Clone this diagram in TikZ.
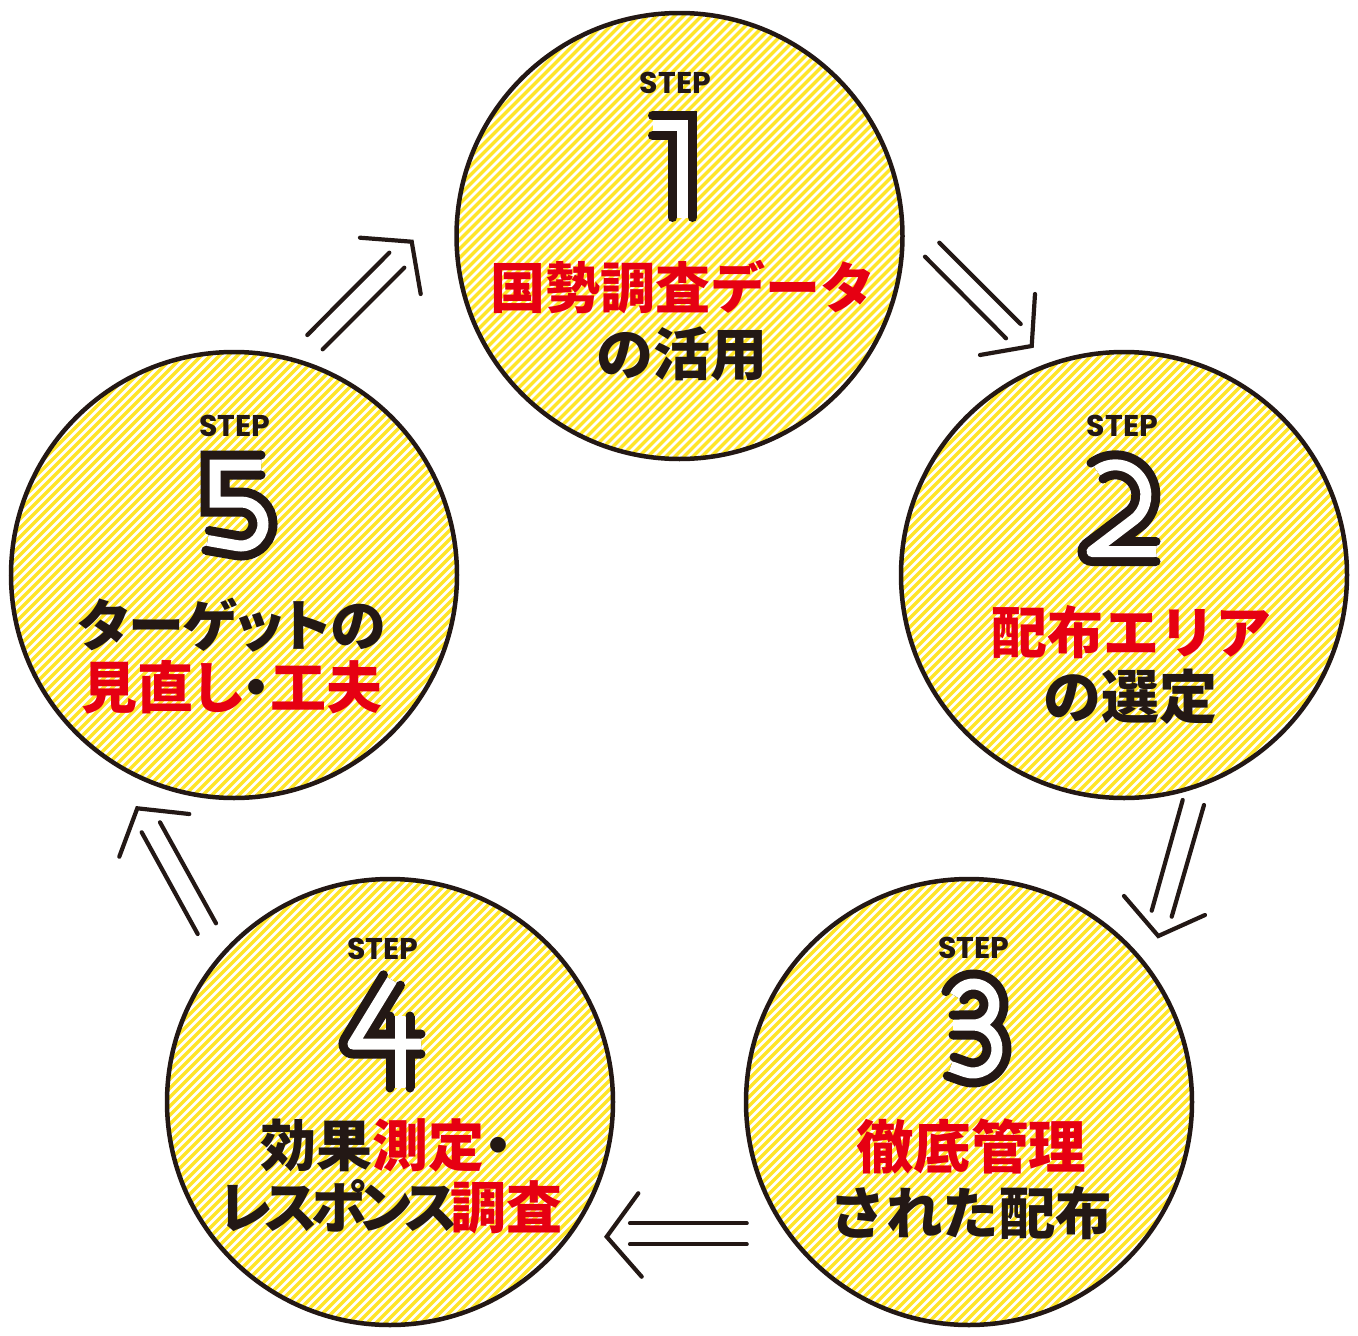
\documentclass[tikz,border=0pt]{standalone}
\usepackage{fontspec}
\newfontfamily\jp{Noto Sans CJK JP}
\newfontfamily\jpp{Noto Sans CJK JP}[RawFeature=+palt]
\newfontfamily\stepfont{Poppins}
\newcommand\tightk{\kern-6.3pt}
\definecolor{ink}{HTML}{231815}
\definecolor{jred}{HTML}{E60012}
\definecolor{stripeyellow}{RGB}{255,229,40}
\begin{document}
\begin{tikzpicture}[x=1pt,y=-1pt,
  stepcircle/.style={circle, minimum size=446pt, inner sep=0pt, draw=ink, line width=4.5pt, fill=white,
    path picture={\foreach \k in {-38,...,38}{\draw[stripeyellow,line width=3.4pt] ([shift={(\k*9-340,340)}]path picture bounding box.center) -- ++(680,-680);}}},
  steplabel/.style={font=\stepfont\bfseries\fontsize{30}{30}\selectfont, text=ink, inner sep=0pt},
  jtext/.style={font=\jp\bfseries\fontsize{#1}{#1}\selectfont, text=ink, inner sep=0pt},
  jtext/.default=56,
  jptext/.style={font=\jpp\bfseries\fontsize{#1}{#1}\selectfont, text=ink, inner sep=0pt},
  jptext/.default=56,
  numblack/.style={draw=ink, line width=29pt, line cap=butt},
  numwhite/.style={draw=white, line width=11pt, line cap=butt},
  flowline/.style={draw=ink, line width=4.2pt, line cap=round, line join=miter},
]
\useasboundingbox (0,0) rectangle (1358,1336);

% circles
\node[stepcircle] (c1) at (679.5,236) {};
\node[stepcircle] (c2) at (1124,575) {};
\node[stepcircle] (c3) at (969,1102) {};
\node[stepcircle] (c4) at (390,1102) {};
\node[stepcircle] (c5) at (234,575) {};

% numeral 1
\draw[numblack] (652.5,125.5) -- (682.5,125.5) -- (682.5,217.5);
\draw[numwhite] (652.5,125.5) -- (682.5,125.5) -- (682.5,217.5);
\foreach \p in {(652.5,115.5),(652.5,135.5),(672.5,217.5),(692.5,217.5)} \fill[ink] \p circle[radius=4.5];

% numeral 2
\draw[numblack, line join=round] (1097,471) arc[start angle=-127, end angle=52.3, radius=30.5] -- (1092,551.5) -- (1156,551.5);
\draw[numwhite, line join=round] (1097,471) arc[start angle=-127, end angle=52.3, radius=30.5] -- (1092,551.5) -- (1156,551.5);
\foreach \p in {(1091,463),(1103,479),(1156,541.5),(1156,561.5)} \fill[ink] \p circle[radius=4.5];

% numeral 3
\draw[numblack, line join=round] (954.9,995.8) arc[start angle=-155, end angle=90, radius=20.5] -- (953,1025)
   (953,1025) -- (973,1025) arc[start angle=-90, end angle=110, radius=24] -- (950.7,1066.5);
\draw[numwhite, line join=round] (954.9,995.8) arc[start angle=-155, end angle=90, radius=20.5] -- (953,1025)
   (953,1025) -- (973,1025) arc[start angle=-90, end angle=110, radius=24] -- (950.7,1066.5);
\foreach \p in {(945.9,991.6),(963.9,1000.0),(953,1015),(953,1035),(947.3,1075.9),(954.1,1057.1)} \fill[ink] \p circle[radius=4.5];

% numeral 4
\draw[numblack, line join=round] (392,980) -- (353,1044) -- (421,1044);
\draw[numblack] (400,1016) -- (400,1088);
\draw[numwhite, line join=round] (392,980) -- (353,1044) -- (421,1044);
\draw[numwhite] (400,1016) -- (400,1088);
\foreach \p in {(400.5,985.2),(383.5,974.8),(421,1034),(421,1054),(390,1016),(410,1016),(390,1088),(410,1088)} \fill[ink] \p circle[radius=4.5];

% numeral 5
\draw[numblack] (261,465) -- (215,465) -- (215,502) -- (241,502) arc[start angle=-90, end angle=100, radius=22] -- (207.6,540.5);
\draw[numwhite] (261,465) -- (215,465) -- (215,502) -- (241,502) arc[start angle=-90, end angle=100, radius=22] -- (207.6,540.5);
\foreach \p in {(261,455),(261,475),(205.9,550.3),(209.3,530.6)} \fill[ink] \p circle[radius=4.5];

% STEP labels
\node[steplabel] (s1) at (675.5,82.5) {STEP};
\node[steplabel] (s2) at (1122.5,426) {STEP};
\node[steplabel] (s3) at (974,947.5) {STEP};
\node[steplabel] (s4) at (383,949) {STEP};
\node[steplabel] (s5) at (235,426) {STEP};

% texts
\node[jtext=55, text=jred] (t1a) at (683,287) {国勢調査データ};
\node[jtext=57] (t1b) at (682,354) {の活用};
\node[jtext=56, text=jred] (t2a) at (1131,632) {配布エリア};
\node[jtext=58] (t2b) at (1130,697) {の選定};
\node[jtext=57.5, text=jred] (t3a) at (971,1147) {徹底管理};
\node[jtext=56.5] (t3b) at (971,1213) {された配布};
\node[jptext=56] (t4a) at (386,1145) {効果\textcolor{jred}{測定}・};
\node[jptext=56] (t4b) at (391,1207) {レ\tightk ス\tightk ポ\tightk ン\tightk ス\tightk\textcolor{jred}{調査}};
\node[jptext=56] (t5a) at (232,625) {ターゲットの};
\node[jptext=56] (t5b) at (232,687) {\textcolor{jred}{見直し}・\textcolor{jred}{工夫}};

% arrow 1 -> 2
\coordinate (a12s1) at (939.3,242.7); \coordinate (a12e1) at (1020.7,324);
\coordinate (a12s2) at (925,256.7);   \coordinate (a12e2) at (1006,338.3);
\coordinate (a12h1) at (1035,294); \coordinate (a12t) at (1031.7,346); \coordinate (a12h2) at (980,355);
\draw[flowline] (a12s1) -- (a12e1);
\draw[flowline] (a12s2) -- (a12e2);
\draw[flowline] (a12h1) -- (a12t) -- (a12h2);

% arrow 2 -> 3
\coordinate (a23s1) at (1182.7,800); \coordinate (a23e1) at (1151.7,910.7);
\coordinate (a23s2) at (1204,805);   \coordinate (a23e2) at (1171.7,916.7);
\coordinate (a23h1) at (1124,896); \coordinate (a23t) at (1158.3,936); \coordinate (a23h2) at (1205,915);
\draw[flowline] (a23s1) -- (a23e1);
\draw[flowline] (a23s2) -- (a23e2);
\draw[flowline] (a23h1) -- (a23t) -- (a23h2);

% arrow 3 -> 4
\coordinate (a34s1) at (746.7,1223.3); \coordinate (a34e1) at (630,1223.3);
\coordinate (a34s2) at (746.7,1244.3); \coordinate (a34e2) at (630,1244.3);
\coordinate (a34h1) at (638.3,1193.3); \coordinate (a34t) at (606.7,1236.7); \coordinate (a34h2) at (641.7,1276.7);
\draw[flowline] (a34s1) -- (a34e1);
\draw[flowline] (a34s2) -- (a34e2);
\draw[flowline] (a34h1) -- (a34t) -- (a34h2);

% arrow 4 -> 5
\coordinate (a45s1) at (216,923.3); \coordinate (a45e1) at (160,822.3);
\coordinate (a45s2) at (197.7,934); \coordinate (a45e2) at (141.7,832.3);
\coordinate (a45h1) at (119.3,856.7); \coordinate (a45t) at (137.3,808.3); \coordinate (a45h2) at (189.3,814);
\draw[flowline] (a45s1) -- (a45e1);
\draw[flowline] (a45s2) -- (a45e2);
\draw[flowline] (a45h1) -- (a45t) -- (a45h2);

% arrow 5 -> 1
\coordinate (a51s1) at (307.3,335); \coordinate (a51e1) at (389.3,252.7);
\coordinate (a51s2) at (322.7,349.3); \coordinate (a51e2) at (404.3,267.7);
\coordinate (a51h1) at (360,237.7); \coordinate (a51t) at (411.7,241.7); \coordinate (a51h2) at (420.7,294);
\draw[flowline] (a51s1) -- (a51e1);
\draw[flowline] (a51s2) -- (a51e2);
\draw[flowline] (a51h1) -- (a51t) -- (a51h2);
\end{tikzpicture}
\end{document}
